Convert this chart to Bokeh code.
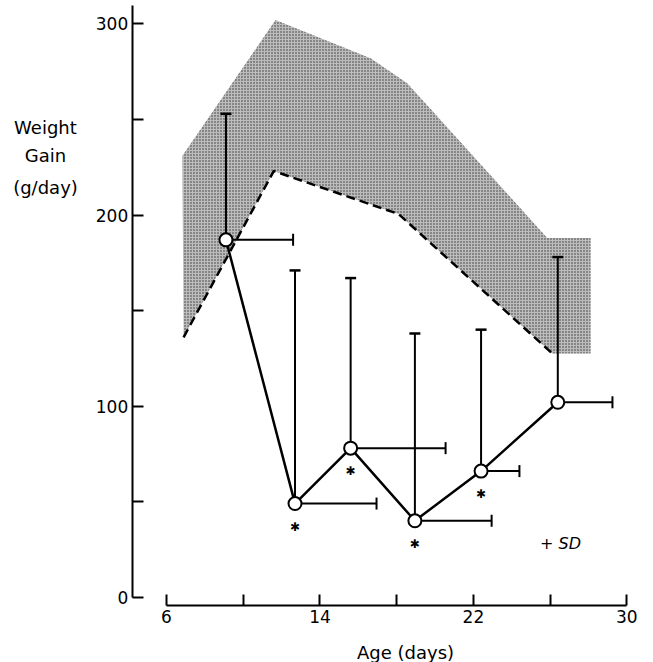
import math
from bokeh.plotting import figure
from bokeh.models import Range1d, FixedTicker, Label, LinearAxis
from bokeh.embed import file_html
from bokeh.resources import INLINE
from bokeh.core.properties import value

# ---- data ----
age = [9.1, 12.7, 15.6, 18.95, 22.4, 26.4]          # mean age (days)
gain = [187, 49, 78, 40, 66, 102]                    # mean weight gain (g/day)
gain_sd = [66, 122, 89, 98, 74, 76]                  # + SD of gain
age_sd = [3.5, 4.25, 4.95, 4.0, 2.0, 2.85]           # + SD of age
significant = [False, True, True, True, True, False]

norm_upper_age = [6.83, 11.68, 16.64, 18.55, 25.85, 28.11]
norm_upper = [231, 302, 282, 269, 188, 188]
norm_lower_age = [6.89, 11.59, 18.10, 26.12, 28.11]
norm_lower = [136, 223, 200.5, 127.5, 127.5]

x_ticks = [6, 10, 14, 18, 22, 26, 30]
x_tick_labels = ["6", "", "14", "", "22", "", "30"]
y_ticks = [0, 50, 100, 150, 200, 250, 300]
y_tick_labels = ["0", "", "100", "", "200", "", "300"]

FONT = "DejaVu Sans"

p = figure(width=653, height=662,
           x_range=Range1d(-2.655, 31.39), y_range=Range1d(-34.17, 312.25),
           x_axis_type=None, y_axis_type=None,
           output_backend="svg", toolbar_location=None, title=None,
           min_border=0)
p.outline_line_color = None
p.background_fill_color = "white"
p.border_fill_color = "white"

xax = LinearAxis(fixed_location=-4.34)
yax = LinearAxis(fixed_location=4.212)
p.add_layout(xax, "below")
p.add_layout(yax, "left")

for ax, ticks, labels, bounds in ((xax, x_ticks, x_tick_labels, (6, 30)),
                                  (yax, y_ticks, y_tick_labels, (0, 309.6))):
    ax.ticker = FixedTicker(ticks=ticks)
    ax.major_label_overrides = {t: l for t, l in zip(ticks, labels)}
    ax.bounds = bounds
    ax.axis_line_width = 2
    ax.axis_line_color = "black"
    ax.major_tick_line_width = 2
    ax.major_tick_line_color = "black"
    ax.major_tick_in = 11
    ax.major_tick_out = 0
    ax.minor_tick_line_color = None
    ax.major_label_text_font = FONT
    ax.major_label_text_font_size = "17px"
    ax.major_label_text_color = "black"
xax.major_label_standoff = 5
yax.major_label_standoff = 4

# normal range band (stippled)
band_x = norm_upper_age + norm_lower_age[::-1]
band_y = norm_upper + norm_lower[::-1]
p.patch(band_x, band_y, fill_color="#bcbcbc", line_color=None,
        hatch_pattern="dot", hatch_color="#333333", hatch_scale=3, hatch_weight=1)
p.line(norm_lower_age[:-1], norm_lower[:-1], line_color="black",
       line_width=2.5, line_dash="9 5")

gain_hi = [g + s for g, s in zip(gain, gain_sd)]
age_hi = [a + s for a, s in zip(age, age_sd)]

# error bars
p.segment(x0=age, y0=gain, x1=age, y1=gain_hi, line_color="black", line_width=2)
p.segment(x0=age, y0=gain, x1=age_hi, y1=gain, line_color="black", line_width=2)
p.scatter(x=age, y=gain_hi, marker="dash", size=11, line_color="black", line_width=2.5)
p.scatter(x=age_hi, y=gain, marker="dash", angle=math.pi / 2, size=12,
          line_color="black", line_width=2)

# mean line and points
p.line(age, gain, line_color="black", line_width=2.5)
p.scatter(age, gain, size=13, fill_color="white", line_color="black", line_width=2)

sx = [a for a, s in zip(age, significant) if s]
sy = [g for g, s in zip(gain, significant) if s]
p.text(x=sx, y=sy, text=["\u2731"] * len(sx), y_offset=23, text_align="center",
       text_baseline="middle", text_font=value(FONT),
       text_font_size="12px", text_color="black")

for txt, yy in zip(["Weight", "Gain", "(g/day)"], [245.9, 231.1, 214.5]):
    p.add_layout(Label(x=-0.31, y=yy, text=txt, text_align="center",
                       text_baseline="middle", text_font=FONT,
                       text_font_size="18px", text_color="black"))
p.add_layout(Label(x=18.46, y=-28.9, text="Age (days)", text_align="center",
                   text_baseline="middle", text_font=FONT,
                   text_font_size="18px", text_color="black"))
p.add_layout(Label(x=26.54, y=28.3, text="+ SD", text_align="center",
                   text_baseline="middle", text_font=FONT, text_font_style="italic",
                   text_font_size="16px", text_color="black"))

open("out.html", "w").write(file_html(p, INLINE))
